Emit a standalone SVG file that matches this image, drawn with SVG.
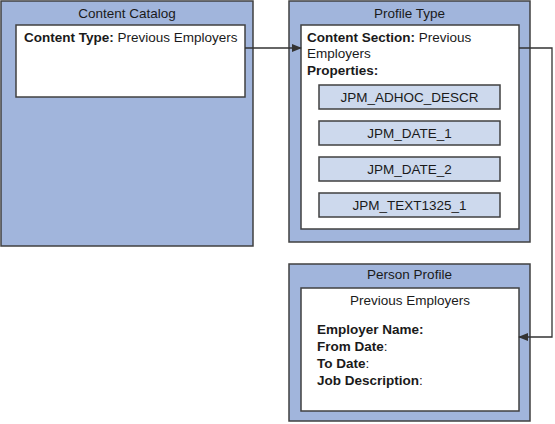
<svg xmlns="http://www.w3.org/2000/svg" width="555" height="424" viewBox="0 0 555 424">
<defs>
<style>
.outer{fill:#a1b5dc;stroke:#404040;stroke-width:1.5}
.inner{fill:#ffffff;stroke:#404040;stroke-width:1.5}
.prop{fill:#cdd9ed;stroke:#404040;stroke-width:1.5}
text{font-family:"Liberation Sans",Arial,sans-serif;font-size:13.5px;fill:#1a1a1a}
.c{text-anchor:middle}
.b{font-weight:bold}
.conn{fill:none;stroke:#333333;stroke-width:1.3}
</style>
<marker id="arr" markerWidth="10" markerHeight="8" refX="9" refY="4" orient="auto" markerUnits="userSpaceOnUse">
<path d="M0,0 L10,4 L0,8 Z" fill="#333333"/>
</marker>
</defs>
<rect width="555" height="424" fill="#ffffff"/>
<g id="content-catalog">
<rect class="outer" x="1" y="1" width="252" height="245"/>
<text class="c" x="127" y="18">Content Catalog</text>
<rect class="inner" x="16" y="25" width="229" height="72"/>
<text x="24" y="42"><tspan class="b">Content Type:</tspan> Previous Employers</text>
</g>
<g id="profile-type">
<rect class="outer" x="289" y="1" width="241" height="241"/>
<text class="c" x="409.5" y="18">Profile Type</text>
<rect class="inner" x="301" y="25" width="218" height="204"/>
<text x="307" y="42"><tspan class="b">Content Section:</tspan> Previous</text>
<text x="307" y="58">Employers</text>
<text class="b" x="307" y="75">Properties:</text>
<g id="prop-adhoc">
<rect class="prop" x="319" y="85" width="181" height="24"/>
<text class="c" x="409.5" y="102">JPM_ADHOC_DESCR</text>
</g>
<g id="prop-date1">
<rect class="prop" x="319" y="121" width="181" height="24"/>
<text class="c" x="409.5" y="138">JPM_DATE_1</text>
</g>
<g id="prop-date2">
<rect class="prop" x="319" y="157" width="181" height="24"/>
<text class="c" x="409.5" y="174">JPM_DATE_2</text>
</g>
<g id="prop-text">
<rect class="prop" x="319" y="193" width="181" height="24"/>
<text class="c" x="409.5" y="210">JPM_TEXT1325_1</text>
</g>
</g>
<g id="person-profile">
<rect class="outer" x="289" y="264" width="241" height="157"/>
<text class="c" x="409.5" y="279">Person Profile</text>
<rect class="inner" x="301" y="288" width="218" height="123"/>
<text class="c" x="410" y="305">Previous Employers</text>
<text class="b" x="317" y="334">Employer Name:</text>
<text x="317" y="351"><tspan class="b">From Date</tspan>:</text>
<text x="317" y="368"><tspan class="b">To Date</tspan>:</text>
<text x="317" y="385"><tspan class="b">Job Description</tspan>:</text>
</g>
<g id="connectors">
<path class="conn" d="M245,48 H301" marker-end="url(#arr)"/>
<path class="conn" d="M519,48 H552 V337 H519" marker-end="url(#arr)"/>
</g>
</svg>
